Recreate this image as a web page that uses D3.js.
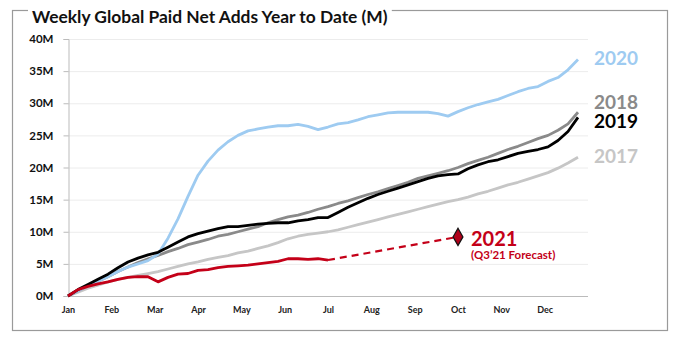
<!DOCTYPE html>
<html>
<head>
<meta charset="utf-8">
<script src="https://cdn.jsdelivr.net/npm/d3@7"></script>
<style>
  body { margin: 0; background: #fff; }
  svg { display: block; font-family: Lato, "Open Sans", sans-serif; }
</style>
</head>
<body>
<svg id="chart" width="678" height="346"></svg>
<script>
var months = ["Jan","Feb","Mar","Apr","May","Jun","Jul","Aug","Sep","Oct","Nov","Dec"];
var yTicks = [0, 5, 10, 15, 20, 25, 30, 35, 40];

// cumulative paid net adds (M), one value per week
var s2017 = [0,0.6,1.2,1.7,2.2,2.6,2.9,3.2,3.5,3.8,4.2,4.6,5.0,5.3,5.7,6.0,6.3,6.7,7.0,7.4,7.8,8.3,8.9,9.3,9.6,9.8,10.0,10.3,10.7,11.1,11.5,11.9,12.3,12.7,13.1,13.5,13.9,14.3,14.7,15.0,15.4,15.9,16.3,16.8,17.3,17.7,18.2,18.7,19.2,19.9,20.7,21.6];
var s2018 = [0,0.8,1.6,2.3,3.0,3.8,4.5,5.2,5.8,6.3,6.9,7.4,8.0,8.4,8.8,9.3,9.6,10.0,10.4,10.8,11.4,11.9,12.3,12.6,13.0,13.5,13.9,14.4,14.8,15.3,15.8,16.2,16.7,17.2,17.7,18.3,18.7,19.1,19.5,20.0,20.6,21.1,21.6,22.2,22.8,23.3,23.9,24.5,25.0,25.8,26.8,28.6];
var s2019 = [0,1.0,1.8,2.6,3.4,4.4,5.3,5.9,6.4,6.8,7.6,8.4,9.2,9.7,10.1,10.5,10.8,10.8,11.0,11.2,11.3,11.4,11.4,11.7,11.9,12.2,12.2,13.0,13.8,14.5,15.2,15.8,16.3,16.8,17.3,17.8,18.3,18.7,18.9,19.0,19.8,20.4,20.9,21.2,21.7,22.2,22.5,22.8,23.2,24.2,25.6,27.8];
var s2020 = [0,0.8,1.6,2.3,3.0,3.8,4.5,5.0,5.5,6.5,9.0,12.0,15.5,18.8,21.0,22.7,24.0,25.0,25.7,26.0,26.3,26.5,26.5,26.7,26.4,25.9,26.3,26.8,27.0,27.4,27.9,28.2,28.5,28.6,28.6,28.6,28.6,28.4,28.0,28.7,29.3,29.8,30.2,30.6,31.2,31.8,32.3,32.6,33.4,34.0,35.2,36.8];
var s2021 = [0,1.0,1.5,1.9,2.2,2.6,2.9,3.0,3.0,2.2,2.9,3.4,3.5,4.0,4.1,4.4,4.6,4.7,4.8,5.0,5.2,5.4,5.8,5.8,5.7,5.8,5.6];
var forecastWeek = 39, forecastValue = 9.2;

var svg = d3.select("#chart");

var x = d3.scaleLinear().domain([0, 52]).range([68, 588]);
var y = d3.scaleLinear().domain([0, 40]).range([296, 39]);

// frame
svg.append("rect").attr("x", 12.5).attr("y", 10.5).attr("width", 655).attr("height", 320)
	.attr("fill", "none").attr("stroke", "#9a9a9a").attr("stroke-width", 1.2);
var title = svg.append("text").attr("x", 32).attr("y", 23)
	.attr("font-size", 17.4).attr("font-weight", 700).attr("fill", "#111")
	.text("Weekly Global Paid Net Adds Year to Date (M)");
var tb = title.node().getBBox();
svg.insert("rect", "text").attr("x", tb.x - 4).attr("y", 2).attr("width", tb.width + 8).attr("height", 18).attr("fill", "#fff");

// grid
svg.append("g").selectAll("line").data(yTicks.slice(1)).enter().append("line")
	.attr("x1", 68).attr("x2", 588)
	.attr("y1", function (d) { return y(d) + 0.5; })
	.attr("y2", function (d) { return y(d) + 0.5; })
	.attr("stroke", "#ececec");

var yAxis = svg.append("g").attr("transform", "translate(68.5,0)")
	.call(d3.axisLeft(y).tickValues(yTicks).tickSize(5).tickPadding(10).tickFormat(function (d) { return d + "M"; }));
yAxis.select(".domain").attr("stroke", "#bbb");
yAxis.selectAll(".tick line").attr("stroke", "#bbb");
yAxis.selectAll("text").attr("font-size", 11.5).attr("font-weight", 700).attr("fill", "#111").attr("font-family", "Lato");

var xAxis = svg.append("g").attr("transform", "translate(0,296.5)")
	.call(d3.axisBottom(x).tickValues(d3.range(12).map(function (i) { return i * 52 / 12; }))
		.tickSize(0).tickPadding(10).tickFormat(function (d, i) { return months[i]; }));
xAxis.select(".domain").attr("stroke", "#bbb").attr("d", "M68,0H588");
xAxis.selectAll("text").attr("font-size", 9).attr("font-weight", 700).attr("fill", "#222").attr("font-family", "Lato");

var line = d3.line().x(function (d, i) { return x(i); }).y(function (d) { return y(d); });

var series = [
	{data: s2017, color: "#c6c6c6"},
	{data: s2018, color: "#8a8a8a"},
	{data: s2020, color: "#9ecbf1"},
	{data: s2019, color: "#000000"},
	{data: s2021, color: "#c40018"}
];
svg.append("g").selectAll("path").data(series).enter().append("path")
	.attr("d", function (d) { return line(d.data); })
	.attr("fill", "none")
	.attr("stroke", function (d) { return d.color; })
	.attr("stroke-width", 2.8)
	.attr("stroke-linejoin", "round");

// forecast
var last = s2021.length - 1;
svg.append("line")
	.attr("x1", x(last)).attr("y1", y(s2021[last]))
	.attr("x2", x(forecastWeek)).attr("y2", y(forecastValue))
	.attr("stroke", "#c40018").attr("stroke-width", 2.2).attr("stroke-dasharray", "7,5");
svg.append("path")
	.attr("d", d3.symbol().type(d3.symbolDiamond).size(85))
	.attr("transform", "translate(" + x(forecastWeek) + "," + y(forecastValue) + ")")
	.attr("fill", "#b0001a").attr("stroke", "#111").attr("stroke-width", 1.2);

// labels
var labels = [
	{t: "2020", v: 36.8, dy: 5, c: "#9ecbf1"},
	{t: "2018", v: 28.6, dy: -3, c: "#8a8a8a"},
	{t: "2019", v: 27.8, dy: 10.6, c: "#000"},
	{t: "2017", v: 21.6, dy: 6, c: "#c6c6c6"}
];
svg.append("g").selectAll("text").data(labels).enter().append("text")
	.attr("x", 594)
	.attr("y", function (d) { return y(d.v) + d.dy; })
	.attr("font-size", 19).attr("font-weight", 700)
	.attr("fill", function (d) { return d.c; })
	.text(function (d) { return d.t; });

svg.append("text").attr("x", x(forecastWeek) + 13).attr("y", y(forecastValue) + 9)
	.attr("font-size", 20).attr("font-weight", 700).attr("fill", "#c40018").text("2021");
svg.append("text").attr("x", x(forecastWeek) + 13).attr("y", y(forecastValue) + 22)
	.attr("font-size", 11.5).attr("font-weight", 700).attr("fill", "#c40018").text("(Q3\u201921 Forecast)");
</script>
</body>
</html>
